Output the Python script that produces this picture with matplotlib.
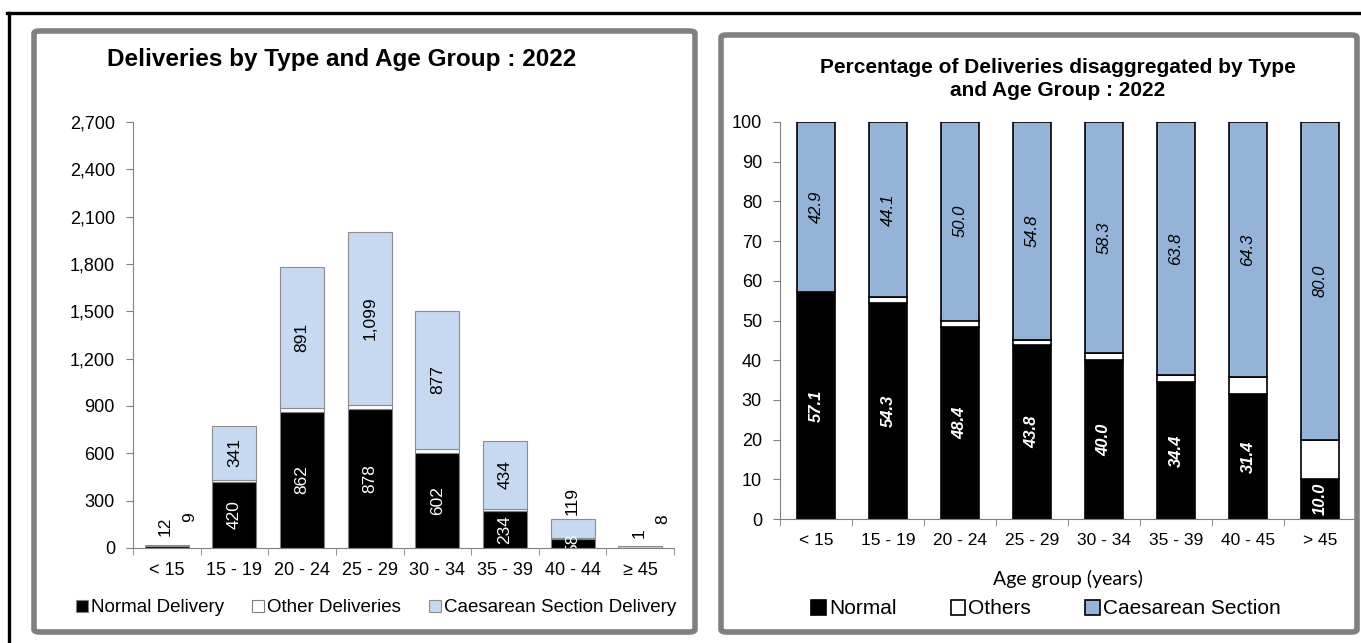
import numpy as np
import matplotlib.pyplot as plt
import matplotlib.patches as patches
from matplotlib.lines import Line2D

plt.rcParams.update({
    "font.family": ["Liberation Sans", "DejaVu Sans"],
    "font.size": 12,
})

# ── Datos ────────────────────────────────────────────────────────────────────
ages_left = ["< 15", "15 - 19", "20 - 24", "25 - 29", "30 - 34", "35 - 39", "40 - 44", "≥ 45"]
normal = [12, 420, 862, 878, 602, 234, 58, 1]
other = [0, 12, 28, 28, 26, 12, 8, 1]
caesarean = [9, 341, 891, 1099, 877, 434, 119, 8]

ages_right = ["< 15", "15 - 19", "20 - 24", "25 - 29", "30 - 34", "35 - 39", "40 - 45", "> 45"]
pct_normal = [57.1, 54.3, 48.4, 43.8, 40.0, 34.4, 31.4, 10.0]
pct_caesarean = [42.9, 44.1, 50.0, 54.8, 58.3, 63.8, 64.3, 80.0]
pct_others = [round(100 - n - c, 1) for n, c in zip(pct_normal, pct_caesarean)]

W, H = 1361, 643
fig = plt.figure(figsize=(W / 100, H / 100), dpi=100)


def fx(x):
    return x / W


def fy(y):
    return 1 - y / H


# ── Marcos ───────────────────────────────────────────────────────────────────
fig.add_artist(Line2D([fx(7), 1], [fy(13), fy(13)], color="black", lw=2.4))
fig.add_artist(Line2D([fx(9), fx(9)], [0, fy(13)], color="black", lw=2.4))
for x0, y0, x1, y1 in [(34, 31, 695, 632), (721, 35, 1357, 632)]:
    box = patches.FancyBboxPatch((fx(x0), fy(y1)), fx(x1 - x0), fy(y0) - fy(y1),
                                 boxstyle="round,pad=0,rounding_size=0.004",
                                 transform=fig.transFigure, facecolor="none",
                                 edgecolor="#808080", lw=4, zorder=5)
    fig.add_artist(box)

# ── Gráfico izquierdo ────────────────────────────────────────────────────────
ax1 = fig.add_axes([fx(133), fy(548), fx(674 - 133), fy(122) - fy(548)])
x = np.arange(len(ages_left))
bw = 0.65
n = np.array(normal)
o = np.array(other)
c = np.array(caesarean)
ax1.bar(x, n, bw, color="black", edgecolor="#808080", lw=0.8, label="Normal Delivery")
ax1.bar(x, o, bw, bottom=n, color="white", edgecolor="#808080", lw=0.8, label="Other Deliveries")
ax1.bar(x, c, bw, bottom=n + o, color="#c6d9f1", edgecolor="#8c8c8c", lw=0.8,
        label="Caesarean Section Delivery")

lab = 12.5
for i in range(len(x)):
    if n[i] >= 50:
        ax1.text(x[i], n[i] / 2, f"{n[i]:,}", rotation=90, ha="center", va="center",
                 color="white", fontsize=lab, clip_on=True)
    else:
        # etiquetas de barras casi vacías, encima de la barra
        ax1.annotate(f"{n[i]:,}", (x[i] - 0.02, n[i] + o[i] + c[i]), xytext=(0, 6),
                     textcoords="offset points", rotation=90, ha="center", va="bottom",
                     fontsize=lab)
    if c[i] >= 200:
        ax1.text(x[i], n[i] + o[i] + c[i] / 2, f"{c[i]:,}", rotation=90, ha="center",
                 va="center", color="black", fontsize=lab)
    elif n[i] >= 50:
        ax1.annotate(f"{c[i]:,}", (x[i], n[i] + o[i] + c[i]), xytext=(0, 3),
                     textcoords="offset points", rotation=90, ha="center", va="bottom",
                     fontsize=lab)
    else:
        ax1.annotate(f"{c[i]:,}", (x[i] + 0.33, n[i] + o[i] + c[i]), xytext=(0, 16),
                     textcoords="offset points", rotation=90, ha="center", va="bottom",
                     fontsize=lab)

ax1.set_xlim(-0.5, len(x) - 0.5)
ax1.set_ylim(0, 2700)
ax1.set_yticks(np.arange(0, 2701, 300))
ax1.set_yticklabels([f"{v:,}" for v in range(0, 2701, 300)])
ax1.set_xticks(x)
ax1.set_xticklabels(ages_left)
ax1.set_xticks(np.arange(-0.5, len(x), 1), minor=True)
ax1.tick_params(axis="x", which="major", length=0, pad=10, labelsize=13)
ax1.tick_params(axis="x", which="minor", length=5, color="#808080")
ax1.tick_params(axis="y", length=5, color="#808080", labelsize=13, pad=8)
for s in ["top", "right"]:
    ax1.spines[s].set_visible(False)
for s in ["left", "bottom"]:
    ax1.spines[s].set_color("#808080")

fig.text(fx(342), fy(66), "Deliveries by Type and Age Group : 2022", ha="center",
         va="baseline", fontsize=17.5, fontweight="bold")

h1, l1 = ax1.get_legend_handles_labels()
fig.legend(h1, l1, loc="center", bbox_to_anchor=(fx(376), fy(608)), ncol=3, frameon=False,
           fontsize=13.5, handlelength=0.65, handleheight=0.65, handletextpad=0.15,
           columnspacing=1.5)

# ── Gráfico derecho ──────────────────────────────────────────────────────────
ax2 = fig.add_axes([fx(780), fy(519), fx(1356 - 780), fy(122) - fy(519)])
x2 = np.arange(len(ages_right))
bw2 = 0.53
pn = np.array(pct_normal)
po = np.array(pct_others)
pc = np.array(pct_caesarean)
ax2.bar(x2, pn, bw2, color="black", edgecolor="black", lw=1.2, label="Normal")
ax2.bar(x2, po, bw2, bottom=pn, color="white", edgecolor="black", lw=1.2, label="Others")
ax2.bar(x2, pc, bw2, bottom=pn + po, color="#95b3d7", edgecolor="black", lw=1.2,
        label="Caesarean Section")

for i in range(len(x2)):
    ax2.text(x2[i], pn[i] / 2, f"{pn[i]:.1f}", rotation=90, ha="center",
             va="center", color="white", fontsize=12, fontweight="bold", style="italic")
    ax2.text(x2[i], pn[i] + po[i] + pc[i] / 2, f"{pc[i]:.1f}", rotation=90, ha="center",
             va="center", color="black", fontsize=12, style="italic")

ax2.set_xlim(-0.5, len(x2) - 0.5)
ax2.set_ylim(0, 100)
ax2.set_yticks(np.arange(0, 101, 10))
ax2.set_xticks(x2)
ax2.set_xticklabels(ages_right)
ax2.set_xticks(np.arange(-0.5, len(x2), 1), minor=True)
ax2.tick_params(axis="x", which="major", length=0, pad=10, labelsize=12.5)
ax2.tick_params(axis="x", which="minor", length=5, color="#808080")
ax2.tick_params(axis="y", length=5, color="#808080", labelsize=13, pad=8)
for s in ["top", "right"]:
    ax2.spines[s].set_visible(False)
for s in ["left", "bottom"]:
    ax2.spines[s].set_color("#808080")
ax2.set_xlabel("Age group (years)", fontsize=14, family=["Lato", "DejaVu Sans"],
               labelpad=16)

fig.text(fx(1058), fy(73), "Percentage of Deliveries disaggregated by Type",
         ha="center", va="baseline", fontsize=15, fontweight="bold")
fig.text(fx(1058), fy(96), "and Age Group : 2022",
         ha="center", va="baseline", fontsize=15, fontweight="bold")

h2, l2 = ax2.get_legend_handles_labels()
fig.legend(h2, l2, loc="center", bbox_to_anchor=(fx(1046), fy(609)), ncol=3, frameon=False,
           fontsize=15, handlelength=0.7, handleheight=0.7, handletextpad=0.15,
           columnspacing=2.6)

fig.savefig("out.png", dpi=100)
